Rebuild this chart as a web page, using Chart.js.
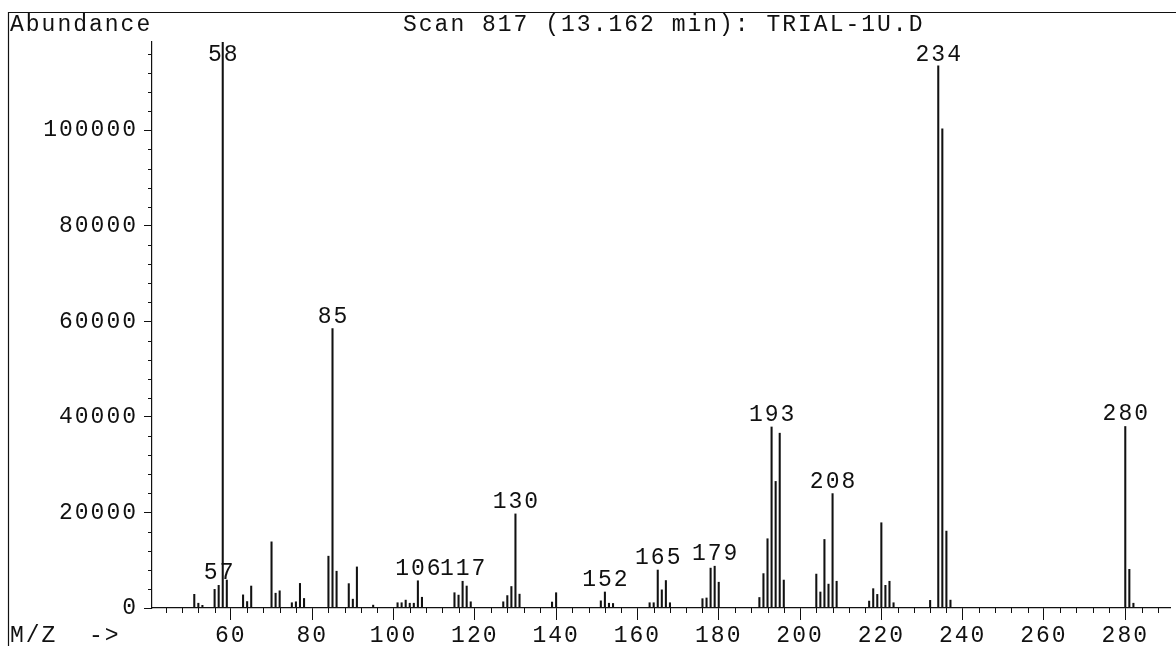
<!DOCTYPE html>
<html>
<head>
<meta charset="utf-8">
<script src="https://cdn.jsdelivr.net/npm/chart.js@4/dist/chart.umd.min.js"></script>
<style>
  html, body { margin: 0; padding: 0; background: #fff; }
  #wrap { width: 1176px; height: 646px; position: relative; }
</style>
</head>
<body>
<div id="wrap"><canvas id="c" width="1176" height="646"></canvas></div>
<script>
// ---- data ----
const mzValues = [51,52,53,56,57,58,59,63,64,65,70,71,72,75,76,77,78,84,85,86,89,90,91,95,
  101,102,103,104,105,106,107,115,116,117,118,119,127,128,129,130,131,139,140,
  151,152,153,154,163,164,165,166,167,168,176,177,178,179,180,
  190,191,192,193,194,195,196,204,205,206,207,208,209,
  217,218,219,220,221,222,223,232,234,235,236,237,280,281,282];
const abundanceValues = [2860,1000,560,3900,4740,118500,5850,2750,1350,4600,13850,3100,3600,1100,1300,5150,2000,10850,58500,7700,5100,1850,8600,600,
  1100,1100,1650,1000,1000,5700,2250,3200,2700,5600,4600,1300,1300,2600,4500,19700,2900,1250,3200,
  1500,3350,1000,950,1100,1100,7950,3800,5750,1100,1950,2100,8350,8750,5400,
  2200,7200,14500,37900,26500,36600,5850,7100,3350,14350,5000,23950,5600,
  1450,4050,2850,17850,4750,5600,1100,1600,113500,100300,16100,1650,38000,8100,1000];
const labeledPeaks = [57,58,85,106,117,130,152,165,179,193,208,234,280];
const xTickValues = [60,80,100,120,140,160,180,200,220,240,260,280];
const yTickValues = [0,20000,40000,60000,80000,100000];
const xMinorStep = 4, yMinorStep = 4000;
const xMin = 40.6, xMax = 291, yMax = 118500;
const titleText = "Scan 817 (13.162 min): TRIAL-1U.D";
const yAxisText = "Abundance";
const xAxisText = "M/Z  ->";

const FONT = "23px 'Liberation Mono', 'DejaVu Sans Mono', monospace";
const INK = '#111';

const points = mzValues.map((m, i) => ({ x: m, y: abundanceValues[i] }));

const decor = {
  id: 'decor',
  beforeLayout(chart) { chart.ctx.letterSpacing = '2px'; },
  beforeDraw(chart) {
    const ctx = chart.ctx;
    ctx.letterSpacing = '2px';
    ctx.save();
    ctx.fillStyle = '#fff';
    ctx.fillRect(0, 0, chart.width, chart.height);
    ctx.restore();
  },
  afterDraw(chart) {
    const ctx = chart.ctx;
    const xs = chart.scales.x, ys = chart.scales.y;
    const area = chart.chartArea;
    ctx.save();
    ctx.letterSpacing = '2px';
    ctx.strokeStyle = INK;
    ctx.lineWidth = 1.2;
    // outer frame (top and left edges)
    ctx.beginPath();
    ctx.moveTo(8.5, chart.height);
    ctx.lineTo(8.5, 12.5);
    ctx.lineTo(chart.width, 12.5);
    ctx.stroke();
    // minor ticks
    ctx.lineWidth = 1;
    ctx.beginPath();
    for (let v = Math.ceil(xMin / xMinorStep) * xMinorStep; v <= xMax; v += xMinorStep) {
      if (xTickValues.includes(v)) continue;
      const px = Math.round(xs.getPixelForValue(v)) + 0.5;
      ctx.moveTo(px, area.bottom);
      ctx.lineTo(px, area.bottom + 5);
    }
    for (let v = yMinorStep; v <= yMax; v += yMinorStep) {
      if (yTickValues.includes(v)) continue;
      const py = Math.round(ys.getPixelForValue(v)) + 0.5;
      ctx.moveTo(area.left - 4, py);
      ctx.lineTo(area.left, py);
    }
    ctx.stroke();
    // texts
    ctx.fillStyle = INK;
    ctx.font = FONT;
    ctx.textBaseline = 'alphabetic';
    ctx.textAlign = 'left';
    ctx.fillText(yAxisText, 10, 31);
    ctx.fillText(titleText, 403, 31);
    ctx.fillText(xAxisText, 10, 642);
    // peak labels
    ctx.textAlign = 'center';
    labeledPeaks.forEach(m => {
      const i = mzValues.indexOf(m);
      const px = xs.getPixelForValue(m);
      const top = ys.getPixelForValue(Math.min(abundanceValues[i], yMax));
      const base = Math.max(top - 6, 61);
      ctx.fillText(String(m), px + 1, base);
    });
    ctx.restore();
  }
};

new Chart(document.getElementById('c'), {
  type: 'bar',
  data: {
    datasets: [{
      data: points,
      backgroundColor: INK,
      borderWidth: 0,
      barThickness: 1.4
    }]
  },
  options: {
    responsive: false,
    animation: false,
    events: [],
    layout: { padding: { top: 42, right: 6, left: 0, bottom: 0 } },
    plugins: { legend: { display: false }, tooltip: { enabled: false } },
    scales: {
      x: {
        type: 'linear',
        min: xMin, max: xMax,
        offset: false,
        grid: { display: true, offset: false, drawOnChartArea: false, tickLength: 12, color: INK, tickWidth: 1 },
        border: { display: true, color: INK, width: 1.2 },
        ticks: {
          autoSkip: false, maxRotation: 0,
          color: INK, padding: 2, font: { family: "'Liberation Mono', monospace", size: 23 },
          callback: v => String(v)
        },
        afterBuildTicks(s) { s.ticks = xTickValues.map(v => ({ value: v })); },
        afterFit(s) { s.height = 38; }
      },
      y: {
        type: 'linear',
        min: 0, max: yMax,
        grid: { display: true, drawOnChartArea: false, tickLength: 8, color: INK, tickWidth: 1 },
        border: { display: true, color: INK, width: 1.2 },
        ticks: {
          autoSkip: false, color: INK, padding: 6,
          font: { family: "'Liberation Mono', monospace", size: 23 },
          callback: v => String(v)
        },
        afterBuildTicks(s) { s.ticks = yTickValues.map(v => ({ value: v })); },
        afterFit(s) { s.width = 152; }
      }
    }
  },
  plugins: [decor]
});
</script>
</body>
</html>
